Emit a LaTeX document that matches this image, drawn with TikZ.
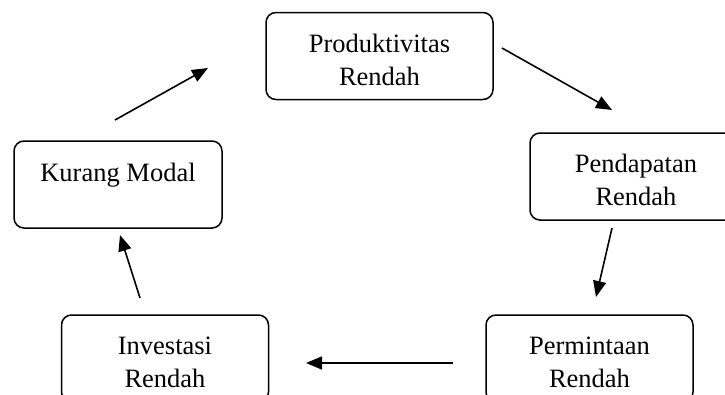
\documentclass[tikz,border=0pt]{standalone}
\usepackage{fontspec}
\setmainfont{Liberation Serif}
\usepackage{tikz}
\usetikzlibrary{arrows.meta, positioning}

% Petit étai pour descendre la première ligne
\newcommand{\etai}{\rule{0pt}{26pt}}

\begin{document}
\begin{tikzpicture}[
        x=1pt, y=-1pt,
        % Styles communs
        every node/.style = {font=\fontsize{26.5}{33}\selectfont},
        % Style des boîtes
        box/.style = {
            rectangle,
            draw=black,
            line width=1.5pt,
            fill=white,
            minimum width=207pt,
            minimum height=87pt,
            rounded corners=10pt,
            align=center
        },
        % Style des flèches
        arrow/.style = {
            -{Triangle[length=16pt, width=13pt]},
            line width=1.6pt,
            draw=black
        }
    ]

        \useasboundingbox (0,0) rectangle (725,394);

        % 1. Placement des boîtes
        \node (prod) [box, minimum width=227pt] at (379.5,56)  {\etai Produktivitas\\Rendah};
        \node (pend) [box, minimum width=212pt] at (636,176.5) {\etai Pendapatan\\Rendah};
        \node (perm) [box] at (589.5,358.5) {\etai Permintaan\\Rendah};
        \node (inv)  [box] at (165,358.5)   {\etai Investasi\\Rendah};
        \node (modal)[box, minimum width=208pt] at (118,184.5) {\etai Kurang Modal\\\mbox{}};

        % 2. Extrémités des flèches
        \coordinate (modal-out) at (115,120);
        \coordinate (prod-in)   at (208,68);
        \coordinate (prod-out)  at (502,48);
        \coordinate (pend-in)   at (612,110);
        \coordinate (pend-out)  at (612,228);
        \coordinate (perm-in)   at (596,297);
        \coordinate (perm-out)  at (453,363);
        \coordinate (inv-in)    at (306,363);
        \coordinate (inv-out)   at (140,298);
        \coordinate (modal-in)  at (120,235);

        % 3. Tracé des flèches
        \draw [arrow] (modal-out) -- (prod-in);
        \draw [arrow] (prod-out) -- (pend-in);
        \draw [arrow] (pend-out) -- (perm-in);
        \draw [arrow] (perm-out) -- (inv-in);
        \draw [arrow] (inv-out) -- (modal-in);

\end{tikzpicture}
\end{document}
